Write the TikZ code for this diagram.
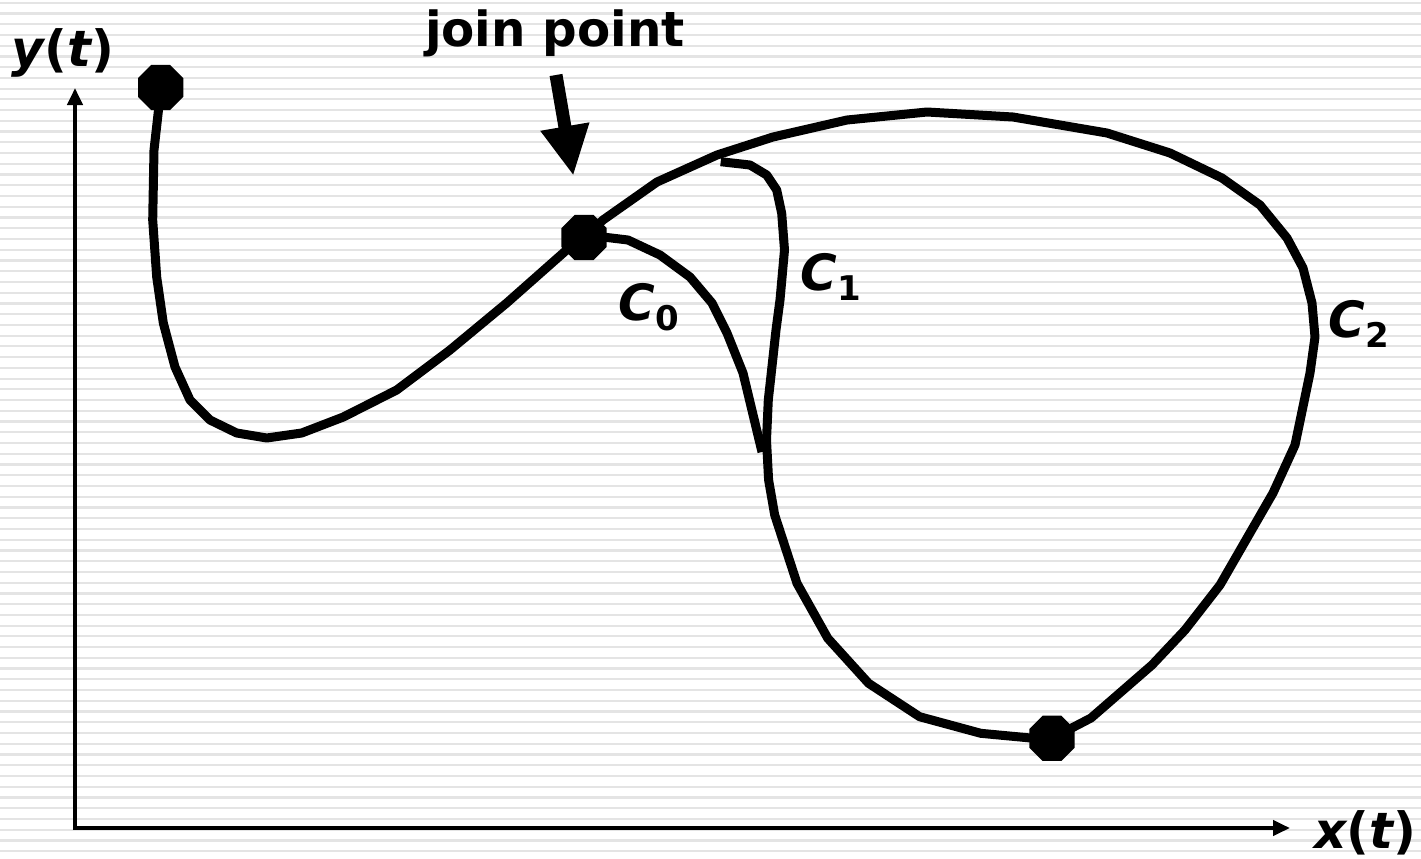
\documentclass[tikz,border=0pt]{standalone}
\usepackage{fontspec}
\setmainfont{DejaVu Sans}[BoldFont={DejaVu Sans Bold},ItalicFont={DejaVu Sans Oblique},BoldItalicFont={DejaVu Sans Bold Oblique}]
\usetikzlibrary{arrows.meta,shapes.geometric}
\definecolor{stripegray}{RGB}{228,228,228}
\newcommand{\curvelbl}[2]{{\itshape #1}\raisebox{-5pt}{\fontsize{17}{17}\selectfont #2}}

\begin{document}
\begin{tikzpicture}[x=0.5pt, y=-0.5pt,
    stripe/.style={line width=1.1pt, color=stripegray},
    axis/.style={line width=2pt, {Triangle[length=8.5pt,width=7.5pt]}-{Triangle[length=8.5pt,width=7.5pt]}},
    seg/.style={line width=4.5pt, line join=round},
    dot/.style={regular polygon, regular polygon sides=8, fill, inner sep=0pt, minimum size=24.5pt},
    lbl/.style={font=\fontsize{25}{30}\selectfont\bfseries, inner sep=0pt}]
		\useasboundingbox (0,0) rectangle (1421,858);
		\fill[white] (0,0) rectangle (1421,858);
		\foreach \i [evaluate=\i as \yy using 2.7+10.74*\i] in {0,...,79}
			\draw[stripe] (0,\yy) -- (1421,\yy);
		% axes
		\coordinate (origin) at (75,828);
		\coordinate (ytip) at (75,88);
		\coordinate (xtip) at (1290,828);
		\draw[axis] (ytip) -- (origin) -- (xtip);
		\node[lbl, anchor=base] (ylbl) at (63,66) {{\itshape y}({\itshape t})};
		\node[lbl, anchor=base] (xlbl) at (1365,848) {{\itshape x}({\itshape t})};
		% end points and join point
		\node[dot] (start) at (160.7,87.5) {};
		\node[dot] (join) at (584,237.5) {};
		\node[dot] (finish) at (1052,738.3) {};
		% C0
		\draw[seg] (start.center) -- (158.5,110) -- (154,150) -- (152.7,220) -- (156.7,277) -- (163.3,323) -- (175,367) -- (190,400) -- (210,420) -- (236.7,433) -- (266.7,438) -- (301.7,433) -- (343.3,417) -- (396.7,390) -- (450,350) -- (506.7,303) -- (570,247) -- (join.center);
		% C1
		\draw[seg] (join.center) -- (603,237) -- (628,240) -- (660,255) -- (690,277) -- (712,303) -- (727,333) -- (743,373) -- (762,452);
		\draw[seg] (720.7,161.7) -- (750,165) -- (766.7,175) -- (776.7,190) -- (781.7,213.3) -- (784.5,250) -- (780,300) -- (776,330) -- (768.3,400) -- (766.5,440) -- (768.6,480) -- (774.7,515) -- (797,583.3) -- (827.8,638.3) -- (868.6,683.3) -- (919.6,716.7) -- (980.8,733.3) -- (1033.9,738.3) -- (finish.center);
		% C2
		\draw[seg] (finish.center) -- (1091,718) -- (1152,665) -- (1185,630) -- (1220,585) -- (1273,493) -- (1295,445) -- (1310,373) -- (1315,337) -- (1312,303) -- (1303,268) -- (1287,238) -- (1260,205) -- (1222,178) -- (1170,153) -- (1107,133) -- (1013,117) -- (927,112) -- (847,120) -- (773,137) -- (717,155) -- (657,182) -- (603,220) -- (join.center);
		% labels
		\node[lbl, anchor=base west] (c0lbl) at (618,320) {\curvelbl{C}{0}};
		\node[lbl, anchor=base west] (c1lbl) at (800,290) {\curvelbl{C}{1}};
		\node[lbl, anchor=base west] (c2lbl) at (1328,337) {\curvelbl{C}{2}};
		\coordinate (jointail) at (556,75);
		\node[lbl, font=\fontsize{24.2}{29}\selectfont\bfseries, anchor=base] (joinlbl) at (555,46.7) {join point};
		\draw[line width=6.5pt, -{Triangle[length=25pt,width=23pt]}, shorten >=19.6pt] (jointail) -- (join);
	\end{tikzpicture}
\end{document}
